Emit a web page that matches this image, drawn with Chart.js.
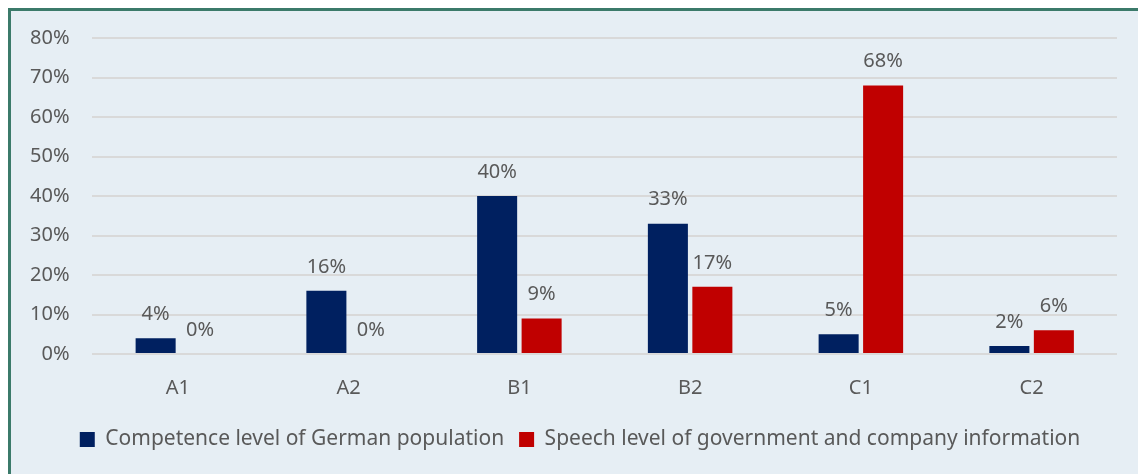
<!DOCTYPE html>
<html>
<head>
<meta charset="utf-8">
<script src="https://cdn.jsdelivr.net/npm/chart.js@4.4.1/dist/chart.umd.min.js"></script>
<style>
  html, body { margin: 0; padding: 0; background: #ffffff; }
  #frame {
    position: absolute; left: 8px; top: 8px;
    width: 1140px; height: 480px;
    border: 3px solid #3b7a6a;
    background: #e6eef4;
    box-sizing: border-box;
  }
  #wrap { position: absolute; left: 0; top: 0; width: 1138px; height: 474px; }
</style>
</head>
<body>
<div id="frame"></div>
<div id="wrap"><canvas id="chart"></canvas></div>
<script>
const categories = ["A1", "A2", "B1", "B2", "C1", "C2"];
const germanPopulation = [4, 16, 40, 33, 5, 2];
const governmentInfo = [0, 0, 9, 17, 68, 6];
const seriesNames = ["Competence level of German population", "Speech level of government and company information"];

const textColor = "#595959";
const fontFamily = "'Noto Sans', sans-serif";

const valueLabels = {
  id: "valueLabels",
  afterDatasetsDraw(chart) {
    const ctx = chart.ctx;
    ctx.save();
    ctx.font = "20px " + fontFamily;
    ctx.fillStyle = textColor;
    ctx.textAlign = "center";
    ctx.textBaseline = "middle";
    chart.data.datasets.forEach((ds, i) => {
      chart.getDatasetMeta(i).data.forEach((bar, j) => {
        ctx.fillText(ds.data[j] + "%", bar.x, bar.y - 24);
      });
    });
    ctx.restore();
  }
};

// nudge the legend a little to the right, like the original
const legendShift = {
  id: "legendShift",
  afterLayout(chart) {
    if (chart.legend) {
      chart.legend.left += 18;
      chart.legend.right += 18;
    }
  }
};

new Chart(document.getElementById("chart").getContext("2d"), {
  type: "bar",
  data: {
    labels: categories,
    datasets: [
      { label: seriesNames[0], data: germanPopulation, backgroundColor: "#002060" },
      { label: seriesNames[1], data: governmentInfo, backgroundColor: "#c00000" }
    ]
  },
  options: {
    responsive: true,
    maintainAspectRatio: false,
    animation: false,
    categoryPercentage: 0.521,
    barPercentage: 0.9,
    layout: { padding: { left: 7, right: 21, top: 38, bottom: 14 } },
    scales: {
      y: {
        min: 0,
        max: 80,
        ticks: {
          stepSize: 10,
          color: textColor,
          font: { size: 20, family: fontFamily },
          padding: 23,
          callback: (v) => v + "%"
        },
        grid: { color: "#d9d9d9", lineWidth: 2, drawTicks: false },
        border: { display: false }
      },
      x: {
        ticks: {
          color: textColor,
          font: { size: 20, family: fontFamily },
          padding: 14
        },
        grid: { display: false },
        border: { display: false }
      }
    },
    plugins: {
      legend: {
        position: "bottom",
        labels: {
          color: textColor,
          font: { size: 21, family: fontFamily },
          boxWidth: 15,
          boxHeight: 15,
          padding: 15
        }
      },
      tooltip: { enabled: false }
    }
  },
  plugins: [valueLabels, legendShift]
});
</script>
</body>
</html>
